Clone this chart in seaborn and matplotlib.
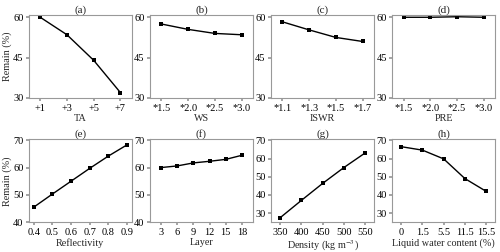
import numpy as np
import pandas as pd
import matplotlib
matplotlib.use("Agg")
import matplotlib.pyplot as plt
import seaborn as sns

# data
ta_labels = ["+1", "+3", "+5", "+7"]
ta_vals = [60.0, 53.5, 44.0, 32.0]
ws_labels = ["*1.5", "*2.0", "*2.5", "*3.0"]
ws_vals = [57.5, 55.5, 54.0, 53.5]
iswr_labels = ["*1.1", "*1.3", "*1.5", "*1.7"]
iswr_vals = [58.3, 55.3, 52.5, 51.0]
pre_labels = ["*1.5", "*2.0", "*2.5", "*3.0"]
pre_vals = [60.0, 60.0, 60.2, 60.0]
refl_x = [0.4, 0.5, 0.6, 0.7, 0.8, 0.9]
refl_vals = [45.5, 50.3, 55.0, 59.7, 64.2, 68.3]
layer_x = [3, 6, 9, 12, 15, 18]
layer_vals = [60.0, 60.6, 61.7, 62.3, 63.0, 64.5]
dens_labels = ["350", "400", "450", "500", "550"]
dens_vals = [27.5, 37.0, 46.3, 55.0, 63.0]
lwc_labels = ["0", "1.5", "5.5", "11.5", "15.5"]
lwc_vals = [66.5, 64.6, 59.8, 49.0, 42.0]

sns.set_theme(style="ticks")
plt.rcParams["font.family"] = ["Liberation Serif", "DejaVu Serif"]
plt.rcParams["mathtext.fontset"] = "stix"
plt.rcParams["axes.edgecolor"] = "#999999"
plt.rcParams["xtick.color"] = "#999999"
plt.rcParams["ytick.color"] = "#999999"
plt.rcParams["xtick.labelcolor"] = "black"
plt.rcParams["ytick.labelcolor"] = "black"
plt.rcParams["xtick.major.size"] = 2.5
plt.rcParams["ytick.major.size"] = 2.5
plt.rcParams["axes.linewidth"] = 0.8

fig, axes = plt.subplots(2, 4, figsize=(5, 2.52), dpi=100)
fig.subplots_adjust(left=0.058, right=0.99, top=0.94, bottom=0.118, wspace=0.18, hspace=0.5)

panels = [
    ("(a)", "TA", ta_labels, ta_vals, (30, 60.8), [30, 45, 60]),
    ("(b)", "WS", ws_labels, ws_vals, (30, 60.8), [30, 45, 60]),
    ("(c)", "ISWR", iswr_labels, iswr_vals, (30, 60.8), [30, 45, 60]),
    ("(d)", "PRE", pre_labels, pre_vals, (30, 60.8), [30, 45, 60]),
    ("(e)", "Reflectivity", refl_x, refl_vals, (40, 70.3), [40, 50, 60, 70]),
    ("(f)", "Layer", layer_x, layer_vals, (40, 70.3), [40, 50, 60, 70]),
    ("(g)", "Density (kg m$^{-3}$)", dens_labels, dens_vals, (25, 70.5), [30, 40, 50, 60, 70]),
    ("(h)", "Liquid water content (%)", lwc_labels, lwc_vals, (25, 70.5), [30, 40, 50, 60, 70]),
]

for i, (ax, (title, xlabel, xs, ys, ylim, yticks)) in enumerate(zip(axes.flat, panels)):
    if isinstance(xs[0], str):
        pos = np.arange(len(xs))
        df = pd.DataFrame({"x": pos, "y": ys})
        sns.lineplot(data=df, x="x", y="y", ax=ax, color="black", linewidth=1,
                     marker="s", markersize=2.5, markeredgewidth=0)
        ax.set_xticks(pos)
        ax.set_xticklabels(xs)
        ax.set_xlim(-0.42, len(xs) - 1 + 0.42)
    else:
        df = pd.DataFrame({"x": xs, "y": ys})
        sns.lineplot(data=df, x="x", y="y", ax=ax, color="black", linewidth=1,
                     marker="s", markersize=2.5, markeredgewidth=0)
        ax.set_xticks(xs)
        ax.set_xticklabels([str(v) for v in xs])
        if xlabel == "Layer":
            ax.set_xlim(1, 20)
    ax.set_ylim(*ylim)
    ax.set_yticks(yticks)
    ax.set_title(title, fontsize=8, pad=2)
    ax.set_xlabel(xlabel, fontsize=7.3, labelpad=1)
    ax.tick_params(labelsize=7.5, pad=1.5)
    if i % 4 == 0:
        ax.set_ylabel("Remain (%)", fontsize=7.3, labelpad=0.5)
    else:
        ax.set_ylabel("")

plt.savefig("out.png", dpi=100)
